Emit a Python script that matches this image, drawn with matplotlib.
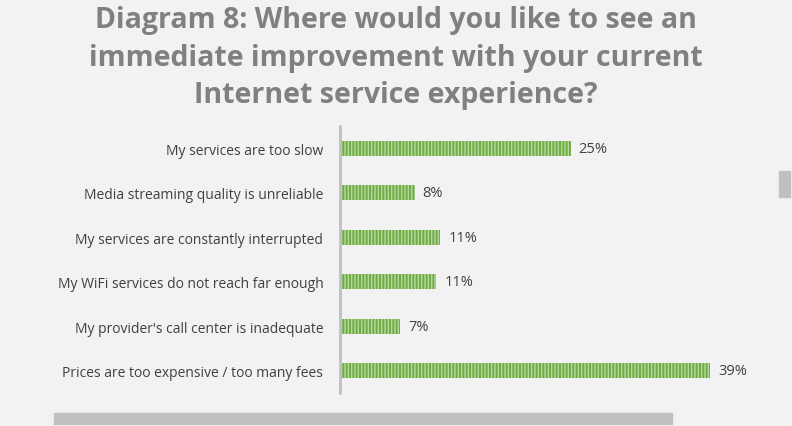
import matplotlib.pyplot as plt
from matplotlib.patches import Rectangle

categories = [
    "My services are too slow",
    "Media streaming quality is unreliable",
    "My services are constantly interrupted",
    "My WiFi services do not reach far enough",
    "My provider's call center is inadequate",
    "Prices are too expensive / too many fees",
]
# bar lengths (%), and the printed labels
values = [24.4, 7.9, 10.6, 10.2, 6.4, 39.2]
labels = ["25%", "8%", "11%", "11%", "7%", "39%"]

title = ("Diagram 8: Where would you like to see an\n"
         "immediate improvement with your current\n"
         "Internet service experience?")

bg = "#f2f2f2"
plt.rcParams['font.family'] = ['Open Sans', 'DejaVu Sans']
plt.rcParams['hatch.linewidth'] = 1.0

fig = plt.figure(figsize=(7.92, 4.27), dpi=100, facecolor=bg)
ax = fig.add_axes([340 / 792, 33 / 427, 430 / 792, 267 / 427])
ax.set_facecolor(bg)

y = list(range(len(categories)))
ax.barh(y, values, height=0.33, color="#70ad47", edgecolor="#b5d99c",
        linewidth=0, hatch="|" * 5)
for yi, v, lab in zip(y, values, labels):
    ax.text(v + 0.85, yi, lab, va="center", ha="left", fontsize=10.5,
            color="#404040")

ax.set_ylim(len(categories) - 0.5, -0.5)
ax.set_xlim(0, 430 / 9.45)
ax.set_yticks(y)
ax.set_yticklabels(categories, fontsize=10, color="#404040")
ax.tick_params(axis="y", length=0, pad=12)
ax.set_xticks([])
for s in ["top", "right", "bottom"]:
    ax.spines[s].set_visible(False)
ax.spines["left"].set_color("#bfbfbf")
ax.spines["left"].set_linewidth(2)

fig.text(0.5, 0.985, title, ha="center", va="top", fontsize=20.5,
         fontweight="bold", color="#808080", linespacing=1.38)

# scrollbar-like strips visible in the source screenshot
fig.patches.append(Rectangle((54 / 792, 2 / 427), 618 / 792, 11 / 427,
                             transform=fig.transFigure, color="#c0c0c0"))
fig.patches.append(Rectangle((779 / 792, 229 / 427), 11 / 792, 26 / 427,
                             transform=fig.transFigure, color="#c0c0c0"))

fig.savefig("out.png", dpi=100, facecolor=bg)
